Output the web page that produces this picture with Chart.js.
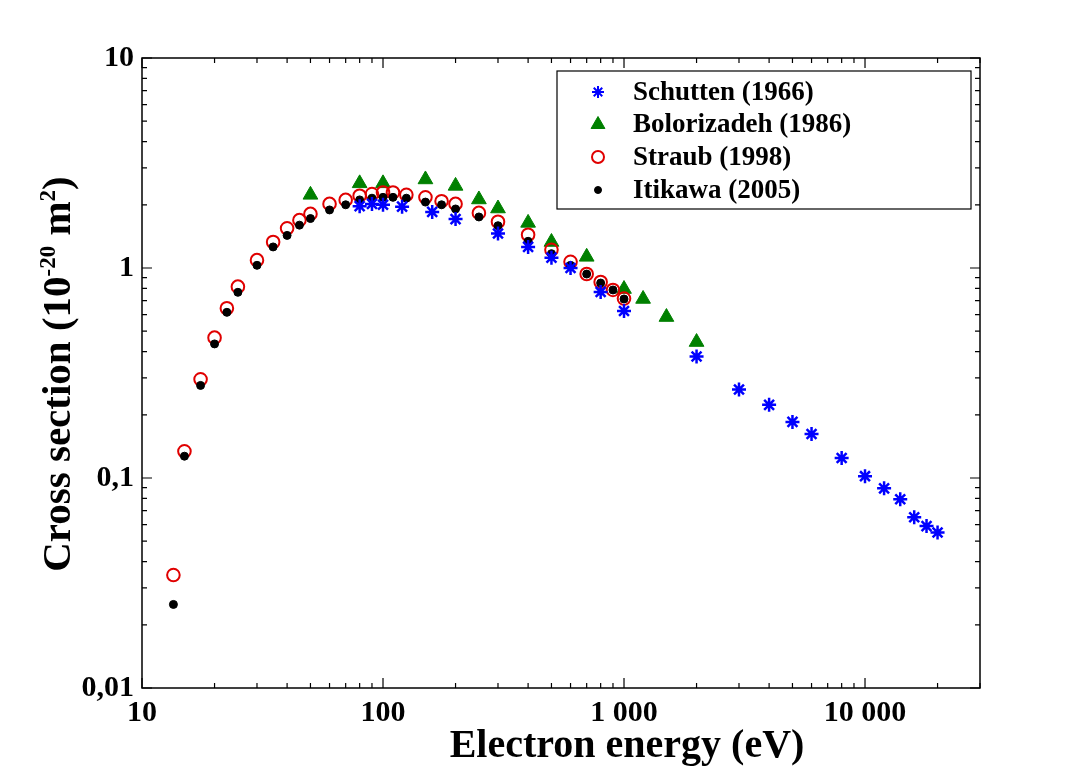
<!DOCTYPE html>
<html>
<head>
<meta charset="utf-8">
<script src="https://cdn.jsdelivr.net/npm/chart.js@4.4.1/dist/chart.umd.min.js"></script>
<style>
html,body{margin:0;padding:0;background:#fff;}
canvas{display:block;}
</style>
</head>
<body>
<canvas id="c" width="1085" height="772"></canvas>
<script>
// ---- Data (energy in eV, cross section in 1e-20 m^2) ----
const schuttenE = [80,90,100,120,160,200,300,400,500,600,800,1000,2000,3000,4000,5000,6000,8000,10000,12000,14000,16000,18000,20000];
const schuttenS = [1.97,2.02,2.0,1.96,1.85,1.71,1.46,1.26,1.12,1.0,0.769,0.624,0.379,0.264,0.223,0.185,0.162,0.1245,0.102,0.0893,0.0792,0.065,0.059,0.055];

const bolorizadehE = [50,80,100,150,200,250,300,400,500,700,1000,1200,1500,2000];
const bolorizadehS = [2.23,2.53,2.53,2.64,2.46,2.12,1.92,1.64,1.33,1.13,0.794,0.712,0.584,0.444];

const straubE = [13.5,15,17.5,20,22.5,25,30,35,40,45,50,60,70,80,90,100,110,125,150,175,200,250,300,400,500,600,700,800,900,1000];
const straubS = [0.0345,0.134,0.295,0.466,0.643,0.815,1.09,1.33,1.545,1.69,1.81,2.02,2.11,2.21,2.25,2.29,2.29,2.23,2.17,2.08,2.02,1.83,1.66,1.44,1.22,1.07,0.936,0.858,0.786,0.715];

const itikawaE = [13.5,15,17.5,20,22.5,25,30,35,40,45,50,60,70,80,90,100,110,125,150,175,200,250,300,400,500,600,700,800,900,1000];
const itikawaS = [0.025,0.127,0.276,0.435,0.615,0.766,1.03,1.26,1.43,1.60,1.72,1.89,2.0,2.11,2.15,2.17,2.17,2.15,2.06,2.0,1.91,1.75,1.59,1.34,1.17,1.03,0.936,0.848,0.786,0.712];

const seriesNames = ['Schutten (1966)','Bolorizadeh (1986)','Straub (1998)','Itikawa (2005)'];

const xTickValues = [10,100,1000,10000];
const xTickLabels = ['10','100','1 000','10 000'];
const yTickValues = [0.01,0.1,1,10];
const yTickLabels = ['0,01','0,1','1','10'];

const xMin = 10, xMax = 30000, yMin = 0.01, yMax = 10;

function pts(xs, ys){ return xs.map((x,i)=>({x:x, y:ys[i]})); }

const styles = [
  {pointStyle:'star', radius:7, borderWidth:2.5, color:'#0000ff', fill:'#0000ff'},
  {pointStyle:'triangle', radius:8.5, borderWidth:1, color:'#008000', fill:'#008000'},
  {pointStyle:'circle', radius:6.3, borderWidth:2, color:'#e00000', fill:'rgba(255,255,255,0)'},
  {pointStyle:'circle', radius:4, borderWidth:1, color:'#000000', fill:'#000000'}
];

const serif = '"Liberation Serif","Times New Roman",serif';

const decorPlugin = {
  id:'decor',
  afterDraw(chart){
    const ctx = chart.ctx;
    const xs = chart.scales.x, ys = chart.scales.y;
    const a = chart.chartArea;
    ctx.save();
    // frame
    ctx.strokeStyle = '#000';
    ctx.lineWidth = 1.5;
    ctx.strokeRect(a.left, a.top, a.right - a.left, a.bottom - a.top);
    // ticks
    ctx.lineWidth = 1.2;
    ctx.beginPath();
    for (let d = 10; d <= 10000; d *= 10) {
      for (let m = 1; m <= 9; m++) {
        const v = m * d;
        if (v < xMin || v > xMax) continue;
        const px = xs.getPixelForValue(v);
        const len = (m === 1) ? 10 : 5;
        ctx.moveTo(px, a.bottom); ctx.lineTo(px, a.bottom - len);
        ctx.moveTo(px, a.top); ctx.lineTo(px, a.top + len);
      }
    }
    for (let d = 0.01; d <= 10.0001; d *= 10) {
      for (let m = 1; m <= 9; m++) {
        const v = m * d;
        if (v < yMin * 0.999 || v > yMax * 1.001) continue;
        const py = ys.getPixelForValue(v);
        const len = (m === 1) ? 10 : 5;
        ctx.moveTo(a.left, py); ctx.lineTo(a.left + len, py);
        ctx.moveTo(a.right, py); ctx.lineTo(a.right - len, py);
      }
    }
    ctx.stroke();

    // legend
    const lx = 557, ly = 71, lw = 414, lh = 138;
    ctx.fillStyle = '#fff';
    ctx.fillRect(lx, ly, lw, lh);
    ctx.lineWidth = 1.2;
    ctx.strokeStyle = '#000';
    ctx.strokeRect(lx, ly, lw, lh);
    const rows = [92, 124.5, 157, 190];
    const legendSizes = [6, 8, 6, 3.5];
    ctx.font = 'bold 27px ' + serif;
    ctx.textBaseline = 'middle';
    ctx.textAlign = 'left';
    seriesNames.forEach((name, i) => {
      const s = styles[i];
      ctx.save();
      ctx.strokeStyle = s.color;
      ctx.fillStyle = s.fill;
      ctx.lineWidth = Math.min(s.borderWidth, 2);
      Chart.helpers.drawPoint(ctx, {pointStyle:s.pointStyle, radius:legendSizes[i], rotation:0, borderWidth:ctx.lineWidth}, 598, rows[i]);
      ctx.restore();
      ctx.fillStyle = '#000';
      ctx.fillText(name, 633, rows[i] + 1);
    });

    // x axis title
    ctx.fillStyle = '#000';
    ctx.font = 'bold 40px ' + serif;
    ctx.textAlign = 'center';
    ctx.textBaseline = 'alphabetic';
    ctx.fillText('Electron energy (eV)', 627, 757);

    // y axis title with superscripts
    const big = 'bold 41px ' + serif, small = 'bold 23px ' + serif;
    const parts = [
      {t:'Cross section (10', f:big, dy:0},
      {t:'-20', f:small, dy:-15},
      {t:' m', f:big, dy:0},
      {t:'2', f:small, dy:-15},
      {t:')', f:big, dy:0}
    ];
    let total = 0;
    parts.forEach(p => { ctx.font = p.f; p.w = ctx.measureText(p.t).width; total += p.w; });
    ctx.translate(70, 374);
    ctx.rotate(-Math.PI / 2);
    ctx.textAlign = 'left';
    let cx = -total / 2;
    parts.forEach(p => { ctx.font = p.f; ctx.fillText(p.t, cx, p.dy); cx += p.w; });
    ctx.restore();
  }
};

const datasets = [
  {label:seriesNames[0], data:pts(schuttenE, schuttenS), order:0},
  {label:seriesNames[1], data:pts(bolorizadehE, bolorizadehS), order:3},
  {label:seriesNames[2], data:pts(straubE, straubS), order:2},
  {label:seriesNames[3], data:pts(itikawaE, itikawaS), order:1}
].map((d, i) => Object.assign(d, {
  pointStyle: styles[i].pointStyle,
  pointRadius: styles[i].radius,
  pointHoverRadius: styles[i].radius,
  pointBorderWidth: styles[i].borderWidth,
  borderColor: styles[i].color,
  backgroundColor: styles[i].fill,
  showLine: false
}));

new Chart(document.getElementById('c'), {
  type: 'scatter',
  data: {datasets},
  options: {
    responsive: false,
    animation: false,
    devicePixelRatio: 1,
    layout: {padding: {top:58, right:105, left:0, bottom:0}},
    plugins: {legend:{display:false}, tooltip:{enabled:false}},
    scales: {
      x: {
        type:'logarithmic', min:xMin, max:xMax,
        grid:{display:false, drawTicks:false},
        border:{display:false},
        afterFit(scale){ scale.height = 84; },
        afterBuildTicks(scale){ scale.ticks = xTickValues.map(v => ({value:v})); },
        ticks:{
          autoSkip:false, maxRotation:0, padding:7, color:'#000',
          font:{family:serif, size:30, weight:'bold'},
          callback(v){ const i = xTickValues.indexOf(v); return i >= 0 ? xTickLabels[i] : ''; }
        }
      },
      y: {
        type:'logarithmic', min:yMin, max:yMax,
        grid:{display:false, drawTicks:false},
        border:{display:false},
        afterFit(scale){ scale.width = 142; },
        afterBuildTicks(scale){ scale.ticks = yTickValues.map(v => ({value:v})); },
        ticks:{
          autoSkip:false, padding:8, color:'#000',
          font:{family:serif, size:30, weight:'bold'},
          callback(v){ const i = yTickValues.findIndex(t => Math.abs(t - v) / t < 1e-6); return i >= 0 ? yTickLabels[i] : ''; }
        }
      }
    }
  },
  plugins:[decorPlugin]
});
</script>
</body>
</html>
